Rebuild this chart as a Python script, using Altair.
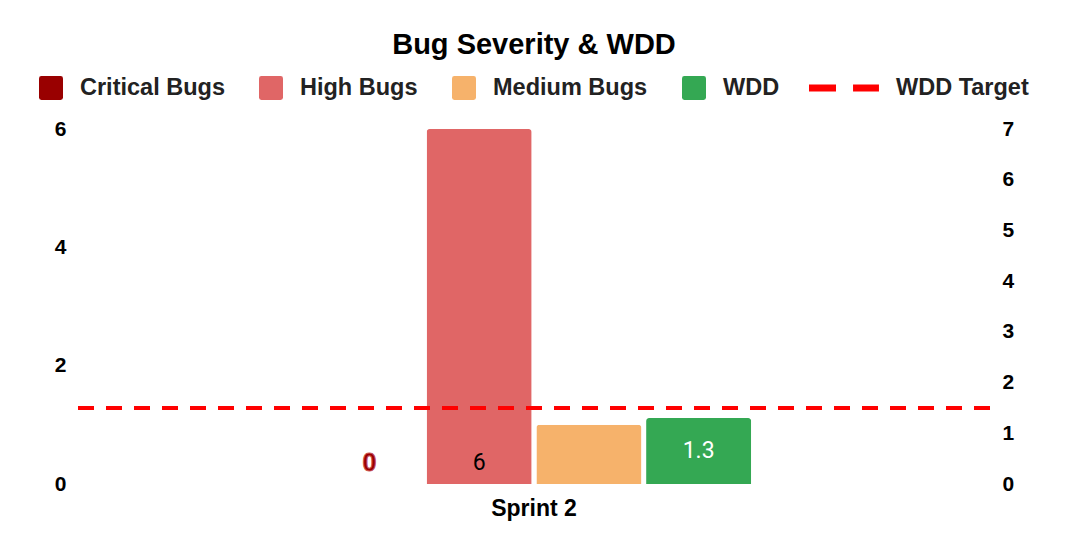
import altair as alt
import pandas as pd

# ---- data ----
sprints = ["Sprint 2"]
bug_series = ["Critical Bugs", "High Bugs", "Medium Bugs"]
bug_values = [0, 6, 1]
wdd_series = ["WDD"]
wdd_values = [1.3]
target_series = ["WDD Target"]
wdd_target = [1.5]
bar_order = ["Critical Bugs", "High Bugs", "Medium Bugs", "WDD"]
bar_colors = ["#990000", "#e06666", "#f6b26b", "#34a853"]
target_color = ["#ff0000"]
left_ticks = [0, 2, 4, 6]
right_ticks = [0, 1, 2, 3, 4, 5, 6, 7]

FONT = "Liberation Sans"
# legend glyphs: slightly rounded square, and two dashes for the target line
ROUND_SQUARE = "M-1,-0.8Q-1,-1 -0.8,-1H0.8Q1,-1 1,-0.8V0.8Q1,1 0.8,1H-0.8Q-1,1 -1,0.8Z"
DASH_PATH = "M-1,-0.29H1.25V0.29H-1Z M2.67,-0.29H4.83V0.29H2.67Z"

bugs_df = pd.DataFrame({"sprint": sprints[0], "series": bug_series, "value": bug_values})
wdd_df = pd.DataFrame({"sprint": sprints, "series": wdd_series, "value": wdd_values})
target_df = pd.DataFrame({"series": target_series, "target": wdd_target})

x_enc = alt.X(
    "sprint:N",
    scale=alt.Scale(paddingInner=0, paddingOuter=0.55),
    axis=alt.Axis(title=None, labelAngle=0, domain=False, ticks=False,
                  labelFont=FONT, labelFontSize=23, labelFontWeight="bold",
                  labelColor="#000000", labelPadding=13),
)
xoff_enc = alt.XOffset("series:N", scale=alt.Scale(domain=bar_order, paddingInner=0.043, paddingOuter=0))
fill_enc = alt.Fill(
    "series:N", scale=alt.Scale(domain=bar_order, range=bar_colors),
    legend=alt.Legend(
        orient="none", legendX=-39, legendY=-53, direction="horizontal", title=None,
        symbolType=ROUND_SQUARE, symbolSize=576, symbolStrokeWidth=0,
        labelFont=FONT, labelFontSize=23.5, labelFontWeight="bold", labelColor="#222222",
        labelOffset=17, columnPadding=34, labelLimit=400, padding=0,
    ),
)


def y_left(field):
    return alt.Y(field, type="quantitative", scale=alt.Scale(domain=[0, 6]),
                 axis=alt.Axis(values=left_ticks, title=None, grid=False, domain=False, ticks=False,
                               labelFont=FONT, labelFontSize=21, labelFontWeight="bold",
                               labelColor="#000000", labelPadding=12, orient="left"))


def y_right(field):
    return alt.Y(field, type="quantitative", scale=alt.Scale(domain=[0, 7]),
                 axis=alt.Axis(values=right_ticks, title=None, grid=False, domain=False, ticks=False,
                               labelFont=FONT, labelFontSize=21, labelFontWeight="bold",
                               labelColor="#000000", labelPadding=12, orient="right"))


bug_bars = alt.Chart(bugs_df).mark_bar(cornerRadiusTopLeft=3, cornerRadiusTopRight=3).encode(
    x=x_enc, xOffset=xoff_enc, y=y_left("value"), fill=fill_enc
)
crit_text = alt.Chart(bugs_df).transform_filter(
    alt.datum.series == "Critical Bugs"
).transform_calculate(base="0").mark_text(
    font=FONT, fontSize=25, fontWeight="bold", color="#990000",
    stroke="#c85050", strokeWidth=1, baseline="middle", dy=-21
).encode(x=x_enc, xOffset=xoff_enc, y=y_left("base"), text=alt.Text("value:Q"))
high_text = alt.Chart(bugs_df).transform_filter(
    alt.datum.series == "High Bugs"
).transform_calculate(base="0").mark_text(
    font="Roboto", fontSize=23, color="#000000", baseline="middle", dy=-21
).encode(x=x_enc, xOffset=xoff_enc, y=y_left("base"), text=alt.Text("value:Q"))

left = alt.layer(bug_bars, crit_text, high_text)

wdd_bar = alt.Chart(wdd_df).mark_bar(cornerRadiusTopLeft=3, cornerRadiusTopRight=3).encode(
    x=x_enc, xOffset=xoff_enc, y=y_right("value"), fill=fill_enc
)
wdd_text = alt.Chart(wdd_df).transform_calculate(half="datum.value / 2").mark_text(
    font="Roboto", fontSize=23, color="#ffffff", baseline="middle"
).encode(x=x_enc, xOffset=xoff_enc, y=y_right("half"), text=alt.Text("value:Q"))
target_rule = alt.Chart(target_df).mark_rule(
    color="#ff0000", strokeWidth=4, strokeDash=[16, 12]
).encode(y=y_right("target"))

right = alt.layer(wdd_bar, wdd_text, target_rule)

target_legend = alt.Legend(
    orient="none", legendX=731, legendY=-53, direction="horizontal", title=None,
    symbolSize=576, symbolStrokeWidth=0,
    labelFont=FONT, labelFontSize=23.5, labelFontWeight="bold", labelColor="#222222",
    labelOffset=63, labelLimit=400, padding=0,
)
legend_layer = alt.Chart(target_df).transform_filter("false").mark_point(
    filled=True, opacity=1
).encode(
    color=alt.Color("series:N", scale=alt.Scale(domain=target_series, range=target_color),
                    legend=target_legend),
    shape=alt.Shape("series:N", scale=alt.Scale(domain=target_series, range=[DASH_PATH]),
                    legend=target_legend),
)

chart = alt.layer(left, right, legend_layer).resolve_scale(y="independent").properties(
    width=912, height=355,
    title=alt.Title("Bug Severity & WDD", font=FONT, fontSize=29, fontWeight="bold",
                    color="#000000", anchor="middle", offset=16),
    autosize=alt.AutoSizeParams(type="none"),
    padding={"left": 70, "top": 121, "right": 72, "bottom": 40},
).configure(background="#ffffff", view=alt.ViewConfig(stroke=None))

chart.save("out.html", embed_options={"renderer": "svg", "actions": False})
